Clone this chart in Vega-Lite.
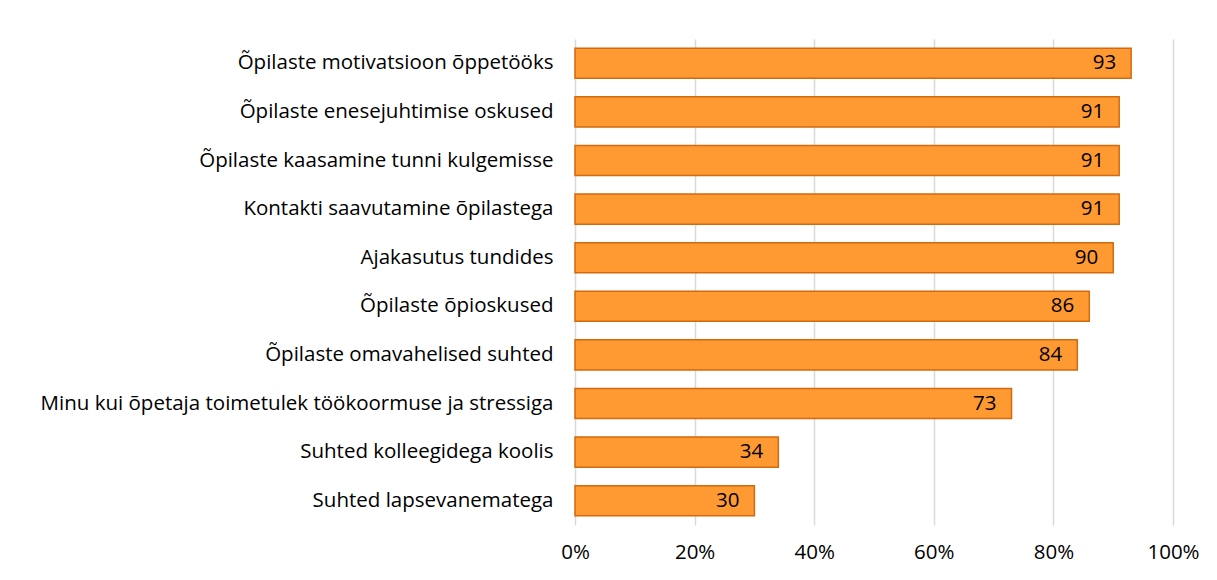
{
  "$schema": "https://vega.github.io/schema/vega-lite/v6.json",
  "autosize": {"type": "none"},
  "padding": {"left": 575, "top": 39, "right": 44, "bottom": 55},
  "width": 598,
  "height": 486,
  "background": "white",
  "config": {"view": {"stroke": null}, "font": "Open Sans"},
  "data": {"values": [
    {"label": "Õpilaste motivatsioon õppetööks", "value": 93},
    {"label": "Õpilaste enesejuhtimise oskused", "value": 91},
    {"label": "Õpilaste kaasamine tunni kulgemisse", "value": 91},
    {"label": "Kontakti saavutamine õpilastega", "value": 91},
    {"label": "Ajakasutus tundides", "value": 90},
    {"label": "Õpilaste õpioskused", "value": 86},
    {"label": "Õpilaste omavahelised suhted", "value": 84},
    {"label": "Minu kui õpetaja toimetulek töökoormuse ja stressiga", "value": 73},
    {"label": "Suhted kolleegidega koolis", "value": 34},
    {"label": "Suhted lapsevanematega", "value": 30}
  ]},
  "encoding": {
    "y": {
      "field": "label", "type": "nominal", "sort": null, "title": null,
      "scale": {"paddingInner": 0.38, "paddingOuter": 0.19},
      "axis": {"domain": false, "ticks": false, "labelPadding": 22, "labelFontSize": 20.5, "labelColor": "#000000", "labelLimit": 600, "labelFont": "Open Sans"}
    },
    "x": {
      "field": "value", "type": "quantitative", "title": null,
      "scale": {"domain": [0, 100]},
      "axis": {"values": [0, 20, 40, 60, 80, 100], "labelExpr": "datum.value + '%'", "labelFlush": false, "labelOverlap": false, "domain": false, "ticks": false, "grid": true, "gridColor": "#D9D9D9", "gridWidth": 1.5, "labelPadding": 17, "labelFontSize": 20.5, "labelColor": "#000000", "labelFont": "Open Sans"}
    }
  },
  "layer": [
    {"mark": {"type": "bar", "fill": "#FF9A33", "stroke": "#D26A0E", "strokeWidth": 1.5}},
    {"mark": {"type": "text", "align": "right", "dx": -15, "fontSize": 20.5, "color": "#000000", "font": "Open Sans"},
     "encoding": {"text": {"field": "value", "type": "quantitative"}}}
  ]
}
